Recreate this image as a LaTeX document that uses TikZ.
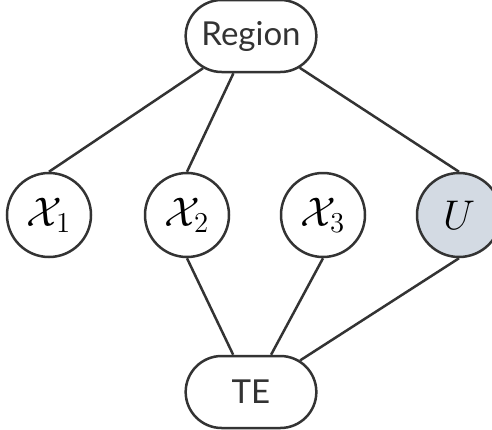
\documentclass[tikz,border=0pt]{standalone}
\usepackage{amsmath,amssymb}
\usepackage{fontspec}
\setsansfont{Lato}
\usetikzlibrary{shapes.misc}

\begin{document}
\begin{tikzpicture}[x=0.5pt, y=-0.5pt, line width=1.25pt,
	every node/.style={font=\sffamily\fontsize{16.5}{19}\selectfont, draw=black!80, text=black!80},
	var/.style={circle, minimum size=42pt, inner sep=0pt, font=\fontsize{21}{24}\selectfont, text=black},
	tag/.style={rounded rectangle, minimum width=72pt, minimum height=36pt}]
	\useasboundingbox (0,0) rectangle (492,429);
	\node[tag] (region) at (251,36) {Region};
	\node[var] (x1) at (49,215) {$\mathcal{X}_1$};
	\node[var] (x2) at (187,215) {$\mathcal{X}_2$};
	\node[var] (x3) at (323,215) {$\mathcal{X}_3$};
	\node[var, fill={rgb,255:red,211;green,218;blue,227}] (u) at (459,215) {$U$};
	\node[tag] (te) at (251,392) {TE};
	\draw[black!80] (region) -- (x1.north);
	\draw[black!80] (region) -- (x2.north);
	\draw[black!80] (region) -- (u.north);
	\draw[black!80] (x2.south) -- (te);
	\draw[black!80] (x3.south) -- (te);
	\draw[black!80] (u.south) -- (te);
\end{tikzpicture}
\end{document}
